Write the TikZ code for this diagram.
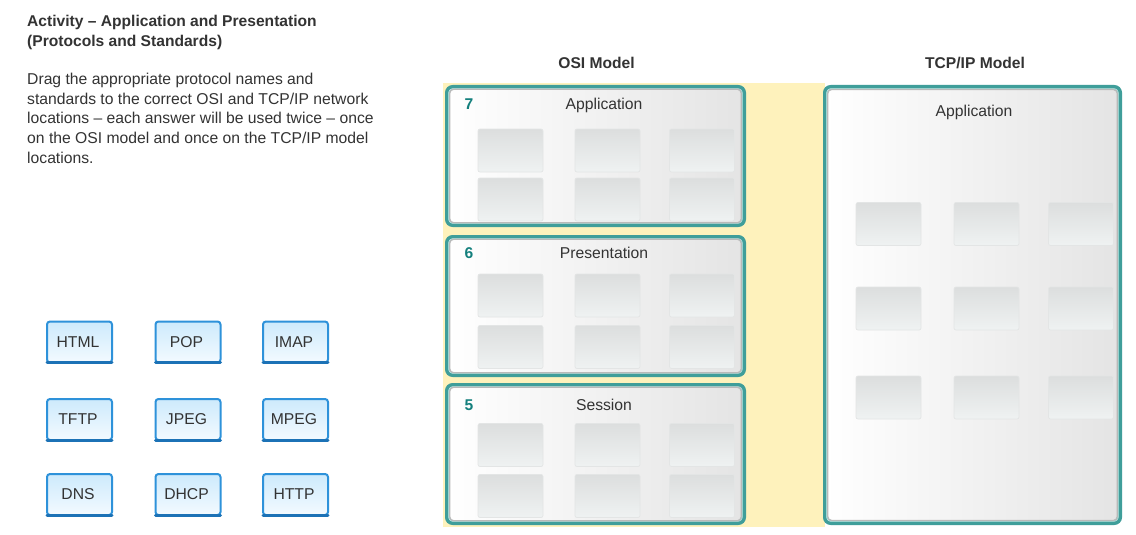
\documentclass[tikz,border=0pt]{standalone}
\usepackage{fontspec}
\setmainfont{Liberation Sans}
\definecolor{txt}{HTML}{333333}
\definecolor{teal1}{HTML}{3F9E9A}
\definecolor{teal2}{HTML}{8FD3CE}
\definecolor{numc}{HTML}{14807D}
\definecolor{band}{HTML}{FEF2BC}
\definecolor{btnb}{HTML}{2E92DA}
\definecolor{btnd}{HTML}{1C72B6}
\definecolor{btntop}{HTML}{CDEAFC}
\definecolor{btnbot}{HTML}{F3FAFF}
\definecolor{slotb}{HTML}{E3E5E5}
\definecolor{slottop}{HTML}{DCDEDE}
\definecolor{slotbot}{HTML}{EFF2F2}
\definecolor{boxright}{HTML}{E4E4E4}
\tikzset{
  fnt/.style={font=\fontsize{15.7}{19.6}\selectfont, text=txt, inner sep=0pt},
  bfnt/.style={font=\fontsize{15.6}{19.6}\selectfont\bfseries, text=txt, inner sep=0pt},
  layerbox/.style={rounded corners=6pt, draw=teal1, line width=3.4pt, left color=white, right color=boxright, inner sep=0pt},
  layerlite/.style={rounded corners=5pt, draw=teal2, line width=0.9pt, inner sep=0pt},
  layerin/.style={rounded corners=4pt, draw=gray!55, line width=1.2pt, inner sep=0pt},
  slot/.style={rounded corners=2pt, draw=slotb, line width=0.7pt, top color=slottop, bottom color=slotbot, minimum width=65pt, minimum height=43pt, inner sep=0pt},
  btn/.style={rounded corners=3pt, draw=btnb, line width=2pt, top color=btntop, bottom color=btnbot, minimum width=65pt, minimum height=41pt, inner sep=0pt},
  num/.style={font=\fontsize{15.6}{19.6}\selectfont\bfseries, text=numc, inner sep=0pt},
}
\begin{document}
\begin{tikzpicture}[x=1pt,y=-1pt]
\useasboundingbox (0,0) rectangle (1136,535);
\fill[white] (0,0) rectangle (1136,535);

% left texts
\node[bfnt, anchor=base west] (t1) at (27,26.6) {Activity – Application and Presentation};
\node[bfnt, anchor=base west] (t2) at (27,46.4) {(Protocols and Standards)};
\node[fnt, anchor=base west] (d1) at (27,84.8) {Drag the appropriate protocol names and};
\node[fnt, anchor=base west] (d2) at (27,104.4) {standards to the correct OSI and TCP/IP network};
\node[fnt, anchor=base west] (d3) at (27,124.0) {locations – each answer will be used twice – once};
\node[fnt, anchor=base west] (d4) at (27,143.6) {on the OSI model and once on the TCP/IP model};
\node[fnt, anchor=base west] (d5) at (27,163.2) {locations.};

% yellow band
\fill[band] (443,83) rectangle (825,527);

% column headings
\node[bfnt, anchor=base] (hosi) at (596.5,68.6) {OSI Model};
\node[bfnt, anchor=base] (htcp) at (975,68.6) {TCP/IP Model};

% OSI layer boxes (outer edge 445..746, height 142)
\foreach \n/\cy/\title/\ty in {7/156/Application/109.6, 6/306/Presentation/258.6, 5/454/Session/410.6}{
  \node[layerbox, minimum width=297.6pt, minimum height=138.6pt] (L\n) at (595.5,\cy) {};
  \node[layerlite, minimum width=293.5pt, minimum height=134.5pt] (L\n lite) at (595.5,\cy) {};
  \node[layerin, minimum width=291.5pt, minimum height=133.5pt] (L\n in) at (595.5,\cy) {};
  \node[num, anchor=base] (N\n) at (469,\ty) {\n};
  \node[fnt, anchor=base] (T\n) at (604,\ty) {\title};
}
% OSI slots
\foreach \n/\ra/\rb in {7/150.5/199.5, 6/295.5/347, 5/445/496}{
  \foreach \c/\cx in {1/510.5, 2/607.5, 3/702}{
    \node[slot] (S\n a\c) at (\cx,\ra) {};
    \node[slot] (S\n b\c) at (\cx,\rb) {};
  }
}

% TCP/IP box (outer edge 823..1122, 85..525)
\node[layerbox, minimum width=295.6pt, minimum height=436.6pt] (TA) at (972.5,305) {};
\node[layerlite, minimum width=291.5pt, minimum height=432.5pt] (TA lite) at (972.5,305) {};
\node[layerin, minimum width=289.5pt, minimum height=431pt] (TA in) at (972.5,305) {};
\node[fnt, anchor=base] (TAt) at (974,116.6) {Application};
\foreach \r/\ry in {1/224, 2/308.5, 3/397.5}{
  \foreach \c/\cx in {1/888.5, 2/986.5, 3/1081}{
    \node[slot] (U\r\c) at (\cx,\ry) {};
  }
}

% answer buttons
\foreach \r/\ry/\la/\lb/\lc in {1/342/HTML/POP/IMAP, 2/419.5/TFTP/JPEG/MPEG, 3/494.5/DNS/DHCP/HTTP}{
  \foreach \c/\cx/\lab in {1/79.5/\la, 2/188/\lb, 3/295.5/\lc}{
    \node[btn] (B\r\c) at (\cx,\ry) {};
    \draw[btnd, line width=3pt, line cap=round] ([xshift=1pt,yshift=1pt]B\r\c.south west) -- ([xshift=-1pt,yshift=1pt]B\r\c.south east);
    \node[fnt] (BL\r\c) at ([xshift=-1.5pt]B\r\c.center) {\lab};
  }
}
\end{tikzpicture}
\end{document}
